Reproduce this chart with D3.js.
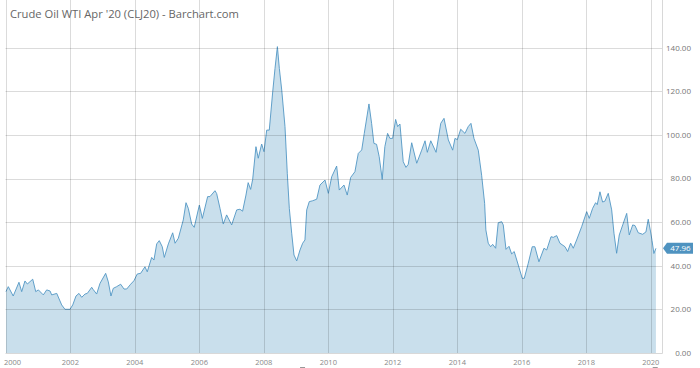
<!DOCTYPE html>
<html><head><meta charset="utf-8">
<script src="https://cdn.jsdelivr.net/npm/d3@7"></script>
<style>body{margin:0;background:#fff;} svg{display:block;}</style>
</head><body>
<svg id="chart" width="700" height="368"></svg>
<script>
const title = "Crude Oil WTI Apr '20 (CLJ20) - Barchart.com";
const lastLabel = "47.96";
const yTicks = [0, 20, 40, 60, 80, 100, 120, 140];
const xTickYears = [2000, 2002, 2004, 2006, 2008, 2010, 2012, 2014, 2016, 2018, 2020];

const dates = [
"2000-01-03","2000-01-29","2000-03-25","2000-05-29","2000-06-29","2000-08-05","2000-09-01","2000-11-01","2000-12-05",
"2001-01-04","2001-03-01","2001-04-08","2001-05-16","2001-06-04","2001-07-31","2001-09-25","2001-11-01","2001-12-28",
"2002-01-28","2002-03-06","2002-04-09","2002-05-10","2002-06-16","2002-07-12","2002-08-31","2002-09-18","2002-10-26","2002-12-03",
"2003-02-05","2003-03-07","2003-04-06","2003-05-02","2003-06-10","2003-07-25","2003-09-01","2003-10-01","2003-11-15","2003-12-22",
"2004-01-29","2004-03-07","2004-04-25","2004-05-21","2004-07-10","2004-08-05","2004-09-05","2004-10-04","2004-11-07","2004-11-30",
"2005-01-15","2005-03-05","2005-04-01","2005-05-08","2005-07-03","2005-08-03","2005-08-29","2005-10-06","2005-11-04",
"2006-01-01","2006-02-04","2006-04-05","2006-05-01","2006-06-27","2006-07-16","2006-08-23","2006-09-29","2006-11-06",
"2007-01-02","2007-02-28","2007-04-06","2007-05-06","2007-06-13","2007-07-08","2007-08-05","2007-08-28","2007-10-04","2007-10-30","2007-12-08",
"2008-01-03","2008-02-03","2008-03-03","2008-04-11","2008-05-07","2008-06-03","2008-06-25","2008-07-22","2008-08-28","2008-09-23","2008-10-16","2008-11-12","2008-12-08",
"2009-01-08","2009-02-14","2009-03-16","2009-04-11","2009-05-01","2009-05-30","2009-07-08","2009-08-22","2009-09-28","2009-11-24",
"2010-01-01","2010-02-08","2010-04-05","2010-05-05","2010-06-27","2010-08-03","2010-09-11","2010-10-29","2010-12-06",
"2011-01-14","2011-02-12","2011-04-06","2011-05-06","2011-06-01","2011-07-01","2011-07-31","2011-09-03","2011-10-03","2011-11-03","2011-11-29","2011-12-30",
"2012-02-02","2012-02-25","2012-03-22","2012-04-28","2012-05-29","2012-06-24","2012-08-02","2012-09-28","2012-11-23","2012-12-31",
"2013-01-26","2013-03-06","2013-05-05","2013-06-27","2013-08-03","2013-09-21","2013-11-09","2013-12-05",
"2014-01-01","2014-02-08","2014-03-28","2014-05-04","2014-06-04","2014-07-08","2014-08-26","2014-10-03","2014-11-06","2014-11-20","2014-12-17",
"2015-01-13","2015-02-05","2015-03-11","2015-04-09","2015-05-18","2015-06-05","2015-07-06","2015-08-09","2015-09-08","2015-10-07","2015-11-22",
"2016-01-06","2016-01-29","2016-03-14","2016-04-28","2016-05-28","2016-07-13","2016-09-08","2016-10-09","2016-11-27","2016-12-23",
"2017-01-30","2017-03-08","2017-05-04","2017-06-03","2017-07-07","2017-08-06","2017-09-13","2017-11-09",
"2018-01-05","2018-02-03","2018-03-13","2018-04-16","2018-05-04","2018-06-04","2018-07-04","2018-07-30","2018-09-06","2018-10-15","2018-11-10","2018-12-10",
"2019-01-09","2019-02-17","2019-04-03","2019-05-02","2019-06-10","2019-07-06","2019-08-12","2019-10-01","2019-11-07","2019-12-03","2019-12-30",
"2020-01-15","2020-02-05","2020-02-28"
];
const prices = [
28.1,30.4,26.1,32.4,28.1,33.0,31.6,33.8,28.1,
28.9,26.6,28.9,28.4,26.6,27.3,22.0,20.0,20.0,
22.0,26.1,27.3,25.5,27.0,27.3,30.1,29.0,27.0,31.9,
36.5,32.6,26.1,29.6,30.4,31.5,29.3,29.3,31.5,33.1,
36.2,36.5,39.5,37.2,43.8,42.6,50.0,51.5,48.7,43.8,
50.0,55.1,50.3,52.6,61.0,68.9,66.3,59.1,57.6,
67.8,61.7,71.7,71.7,74.4,73.1,66.3,59.1,63.3,
58.7,65.6,65.9,65.0,72.4,78.1,75.0,79.6,94.6,89.3,95.8,
92.3,102.2,102.2,119.8,130.5,140.5,130.5,120.6,103.8,82.4,66.3,54.9,44.9,
42.2,47.2,50.3,51.8,65.6,69.4,69.8,70.5,77.0,79.3,
73.2,80.8,85.7,74.7,77.0,72.4,80.5,83.1,91.5,
93.1,100.7,114.2,105.3,96.1,95.7,90.0,79.6,94.6,100.7,98.4,98.4,
107.1,103.8,105.0,87.7,85.1,86.5,96.4,87.0,93.0,97.3,
92.0,97.3,92.0,105.3,107.6,97.7,93.0,98.4,
97.8,102.6,100.7,103.8,105.3,98.4,93.0,81.5,68.6,56.4,50.3,
48.7,49.8,48.0,59.7,60.2,58.7,47.5,48.9,45.4,46.5,40.3,
34.2,34.2,41.1,48.7,48.7,41.8,48.0,47.2,53.3,53.0,
53.8,50.3,48.7,46.5,50.3,48.0,51.8,57.9,
64.8,61.7,66.3,68.9,68.0,73.9,69.2,69.6,73.2,65.6,54.9,45.7,
54.1,58.7,64.0,54.1,58.7,58.4,55.1,54.4,55.5,61.3,55.5,
51.5,45.6,47.96
];

const parse = d3.timeParse("%Y-%m-%d");
const data = dates.map((d, i) => ({ date: parse(d), value: prices[i] }));

const L = 5.5, R = 662, T = 0, B = 353;
const x = d3.scaleTime().domain([new Date(2000, 0, 1), new Date(2020, 0, 1)]).range([5.8, 650.8]);
const y = d3.scaleLinear().domain([0, 140]).range([352.9, 47.7]);

const svg = d3.select("#chart");

// area + line
const area = d3.area().x(d => x(d.date)).y0(y(0)).y1(d => y(d.value));
const line = d3.line().x(d => x(d.date)).y(d => y(d.value));
svg.append("path").datum(data).attr("d", area).attr("fill", "#c9dfec");
svg.append("path").datum(data).attr("d", line).attr("fill", "none")
  .attr("stroke", "#5196c4").attr("stroke-width", 0.9);

// gridlines on top
const grid = svg.append("g").attr("stroke", "rgba(0,0,0,0.14)").attr("stroke-width", 1);
grid.selectAll("line.h").data(yTicks.filter(v => v > 0)).join("line")
  .attr("x1", L).attr("x2", R)
  .attr("y1", d => Math.round(y(d)) + 0.5).attr("y2", d => Math.round(y(d)) + 0.5);
grid.selectAll("line.v").data(xTickYears).join("line")
  .attr("y1", T).attr("y2", B)
  .attr("x1", d => Math.round(x(new Date(d, 0, 1))) + 0.5)
  .attr("x2", d => Math.round(x(new Date(d, 0, 1))) + 0.5);

// borders
svg.append("line").attr("x1", L).attr("x2", R + 0.5).attr("y1", B + 0.5).attr("y2", B + 0.5)
  .attr("stroke", "#d8d8d8");
svg.append("line").attr("x1", R + 0.5).attr("x2", R + 0.5).attr("y1", T).attr("y2", B + 0.5)
  .attr("stroke", "#d8d8d8");

// y labels
svg.append("g").selectAll("text").data(yTicks).join("text")
  .attr("x", 691).attr("y", d => y(d)).attr("dy", "0.35em")
  .attr("text-anchor", "end")
  .attr("font-family", "Open Sans, sans-serif").attr("font-size", 8)
  .attr("fill", "#777").text(d => d3.format(".2f")(d));

// x labels
svg.append("g").selectAll("text").data(xTickYears).join("text")
  .attr("x", (d, i) => i === 0 ? 4 : x(new Date(d, 0, 1)))
  .attr("y", 364.5)
  .attr("text-anchor", (d, i) => i === 0 ? "start" : "middle")
  .attr("font-family", "Open Sans, sans-serif").attr("font-size", 7.5)
  .attr("fill", "#888").text(d => d);

// small navigator marks
svg.append("g").selectAll("line").data([new Date(2009, 2, 15), new Date(2020, 1, 20)]).join("line")
  .attr("x1", d => x(d) - 2.5).attr("x2", d => x(d) + 2.5)
  .attr("y1", 367.5).attr("y2", 367.5).attr("stroke", "#999").attr("stroke-width", 1);

// last value tag
const last = data[data.length - 1];
const ty = y(last.value);
const tag = svg.append("g");
tag.append("path")
  .attr("d", `M${R + 1},${ty} L${R + 5},${ty - 5.5} L${R + 31},${ty - 5.5} L${R + 31},${ty + 5.5} L${R + 5},${ty + 5.5} Z`)
  .attr("fill", "#4f93c0");
tag.append("text").attr("x", R + 18.5).attr("y", ty).attr("dy", "0.35em")
  .attr("text-anchor", "middle").attr("font-family", "Open Sans, sans-serif")
  .attr("font-size", 8).attr("fill", "#fff").text(lastLabel);

// title
svg.append("text").attr("x", 10).attr("y", 18)
  .attr("font-family", "Open Sans, sans-serif").attr("font-size", 11.2)
  .attr("fill", "#666").text(title);
</script>
</body></html>
